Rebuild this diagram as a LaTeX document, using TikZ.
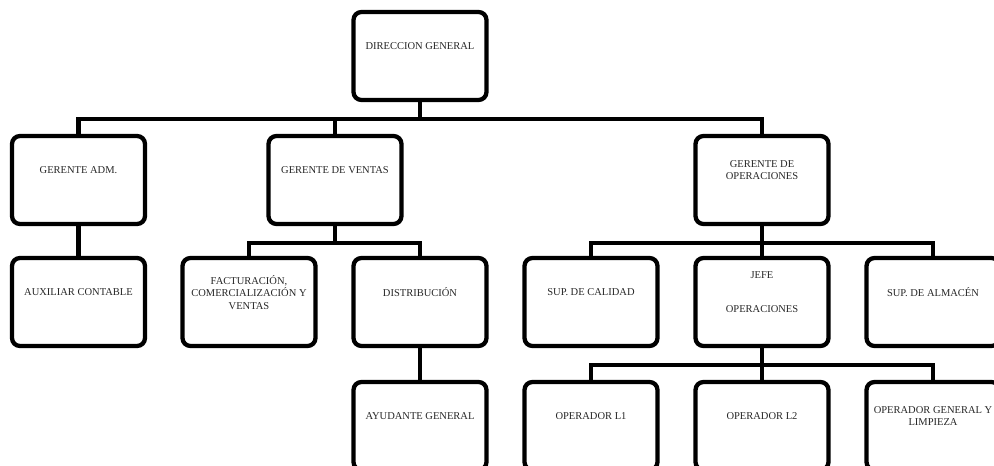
\documentclass[tikz,border=0pt]{standalone}
\usepackage{fontspec}
\setmainfont{Liberation Serif}
\usepackage{tikz}
\usetikzlibrary{calc, positioning}

\tikzset{
  puesto/.style={draw, line width=4.3pt, rounded corners=8pt,
    minimum width=133pt, minimum height=88pt, align=center,
    text depth=20pt, inner sep=2pt, font=\fontsize{10.5}{12.5}\selectfont,
    text=black!85},
  tie/.style={line width=4.3pt}
}

\begin{document}
\begin{tikzpicture}[x=1pt, y=-1pt]
  \useasboundingbox (0,0) rectangle (994,466);
  % nivel 1
  \node[puesto] (dir) at (420, 56) {DIRECCION GENERAL};
  % nivel 2
  \node[puesto] (adm) at (78.5, 180) {GERENTE ADM.};
  \node[puesto] (ventas) at (335, 180) {GERENTE DE VENTAS};
  \node[puesto] (ops) at (762, 180) {GERENTE DE\\OPERACIONES};
  % nivel 3
  \node[puesto] (aux) at (78.5, 302) {AUXILIAR CONTABLE};
  \node[puesto] (fact) at (249, 302) {FACTURACIÓN,\\COMERCIALIZACIÓN Y\\VENTAS};
  \node[puesto] (distr) at (420, 302) {DISTRIBUCIÓN};
  \node[puesto] (calidad) at (591, 302) {SUP. DE CALIDAD};
  \node[puesto] (jefe) at (762, 302) {JEFE\\[21pt]OPERACIONES};
  \node[puesto] (almacen) at (933, 302) {SUP. DE ALMACÉN};
  % nivel 4
  \node[puesto] (ayud) at (420, 426) {AYUDANTE GENERAL};
  \node[puesto] (op1) at (591, 426) {OPERADOR L1};
  \node[puesto] (op2) at (762, 426) {OPERADOR L2};
  \node[puesto] (opgen) at (933, 426) {OPERADOR GENERAL Y\\LIMPIEZA};

  % lineas
  \foreach \kid in {adm, ventas, ops}
    \draw[tie] (dir.south) -- ++(0,17) -| (\kid.north);
  \draw[tie] (adm.south) -- (aux.north);
  \foreach \kid in {fact, distr}
    \draw[tie] (ventas.south) -- ++(0,17) -| (\kid.north);
  \foreach \kid in {calidad, jefe, almacen}
    \draw[tie] (ops.south) -- ++(0,17) -| (\kid.north);
  \draw[tie] (distr.south) -- (ayud.north);
  \foreach \kid in {op1, op2, opgen}
    \draw[tie] (jefe.south) -- ++(0,17) -| (\kid.north);
\end{tikzpicture}
\end{document}
